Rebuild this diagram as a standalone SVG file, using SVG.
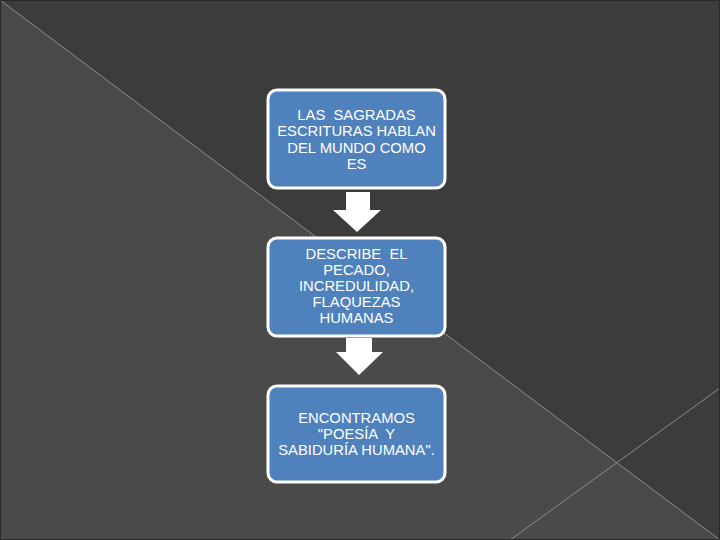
<svg xmlns="http://www.w3.org/2000/svg" width="720" height="540" viewBox="0 0 720 540">
<style>
.box{fill:#4f81bd;stroke:#ffffff;stroke-width:3}
.lbl{font-family:"Liberation Sans",Arial,sans-serif;font-size:14.8px;fill:#ffffff;text-anchor:middle;white-space:pre}
.arrow{fill:#ffffff}
.bgline{stroke:#8c8c8c;stroke-width:1;fill:none}
</style>
<g id="background">
<rect x="0" y="0" width="720" height="540" fill="#3c3c3c"/>
<polygon points="0,0 720,540 0,540" fill="#4a4a4a"/>
<line class="bgline" x1="0" y1="0" x2="720" y2="540"/>
<line class="bgline" x1="720" y1="388" x2="510" y2="540"/>
<rect x="0.5" y="0.5" width="719" height="539" fill="none" stroke="#2a2a2a" stroke-width="1"/>
</g>
<g id="connectors">
<polygon class="arrow" points="346,192 370,192 370,210 381,210 357,232 333,210 346,210"/>
<polygon class="arrow" points="346,338 372,338 372,352 383,352 359,375 336,352 346,352"/>
</g>
<g id="node1">
<rect class="box" x="268" y="90" width="177" height="98" rx="9"/>
<text class="lbl" x="356.5" y="120">LAS  SAGRADAS</text>
<text class="lbl" x="356.5" y="136.3">ESCRITURAS HABLAN</text>
<text class="lbl" x="356.5" y="152.5">DEL MUNDO COMO</text>
<text class="lbl" x="356.5" y="168.7">ES</text>
</g>
<g id="node2">
<rect class="box" x="268" y="238" width="177" height="98" rx="9"/>
<text class="lbl" x="356.5" y="259">DESCRIBE  EL</text>
<text class="lbl" x="356.5" y="275">PECADO,</text>
<text class="lbl" x="356.5" y="291">INCREDULIDAD,</text>
<text class="lbl" x="356.5" y="307">FLAQUEZAS</text>
<text class="lbl" x="356.5" y="323">HUMANAS</text>
</g>
<g id="node3">
<rect class="box" x="268" y="386" width="177" height="96" rx="9"/>
<text class="lbl" x="356.5" y="423">ENCONTRAMOS</text>
<text class="lbl" x="356.5" y="439">"POESÍA  Y</text>
<text class="lbl" x="356.5" y="455">SABIDURÍA HUMANA".</text>
</g>
</svg>
